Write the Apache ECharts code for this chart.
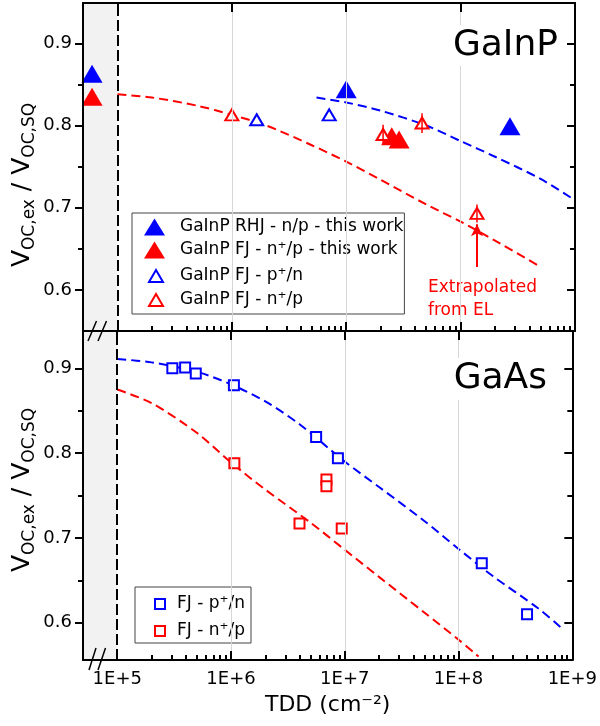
<!DOCTYPE html>
<html><head><meta charset="utf-8">
<script src="https://cdn.jsdelivr.net/npm/echarts@6/dist/echarts.min.js"></script>
<style>html,body{margin:0;padding:0;background:#fff}#c{width:600px;height:726px}</style>
</head><body><div id="c"></div><script>
const FONT = 'DejaVu Sans';

// ---------- axes / ticks ----------
const xMin = 5e4, xMax = 1e9;
const xMajorTicks = [1e5, 1e6, 1e7, 1e8, 1e9];
const xMinorTicks = [2e5,3e5,4e5,5e5,6e5,7e5,8e5,9e5,
                     2e6,3e6,4e6,5e6,6e6,7e6,8e6,9e6,
                     2e7,3e7,4e7,5e7,6e7,7e7,8e7,9e7,
                     2e8,3e8,4e8,5e8,6e8,7e8,8e8,9e8];
const yMajorTicks = [0.6, 0.7, 0.8, 0.9];
const yMinorTicks = [0.65, 0.75, 0.85];
const gridLineTDD = [1e6, 1e7, 1e8];
const breakTDD = 1e5;
const topYRange = [0.55, 0.949];
const botYRange = [0.556, 0.944];

// ---------- GaInP panel ----------
const nameRHJ = 'GaInP RHJ - n/p - this work';
const nameFJnpWork = 'GaInP FJ - n\u207A/p - this work';
const nameFJpn = 'GaInP FJ - p\u207A/n';
const nameFJnp = 'GaInP FJ - n\u207A/p';
const rhjBlueFilled = [[6.0e4, 0.863], [1.0e7, 0.844], [2.7e8, 0.799]];
const fjRedFilled = [[6.0e4, 0.835], [2.5e7, 0.787], [2.9e7, 0.783]];
const fjBlueOpen = [[1.65e6, 0.807], [7.1e6, 0.813]];
const fjRedOpen = [[1.0e6, 0.813], [2.1e7, 0.789], [4.6e7, 0.803], [1.39e8, 0.693]];
const fjRedOpenErr = [[2.1e7, 0.777, 0.801], [4.6e7, 0.791, 0.815], [1.39e8, 0.682, 0.704]];
const arrowTDD = 1.39e8, arrowFrom = 0.628, arrowTo = 0.680;
const fitTopRedX = [1e5, 2e5, 5e5, 1e6, 2e6, 5e6, 1e7, 2e7, 5e7, 1e8, 2e8, 5e8];
const fitTopRedY = [0.838, 0.834, 0.824, 0.813, 0.800, 0.776, 0.756, 0.734, 0.704, 0.683, 0.660, 0.628];
const fitTopBlueX = [5.5e6, 1e7, 2e7, 5e7, 1e8, 2e8, 5e8, 1e9];
const fitTopBlueY = [0.834, 0.828, 0.818, 0.800, 0.781, 0.762, 0.735, 0.709];

// ---------- GaAs panel ----------
const nameGaAsPN = 'FJ - p\u207A/n';
const nameGaAsNP = 'FJ - n\u207A/p';
const gaasBlue = [[3.05e5, 0.900], [3.95e5, 0.901], [4.9e5, 0.894], [1.06e6, 0.880],
                  [5.6e6, 0.819], [8.7e6, 0.794], [1.6e8, 0.670], [4.0e8, 0.610]];
const gaasRed = [[1.07e6, 0.788], [4.0e6, 0.717], [6.9e6, 0.769], [6.9e6, 0.761], [9.4e6, 0.711]];
const fitBotBlueX = [1e5, 2e5, 5e5, 1e6, 2e6, 4e6, 1e7, 2e7, 5e7, 1e8, 2e8, 5e8, 8e8];
const fitBotBlueY = [0.911, 0.907, 0.896, 0.881, 0.861, 0.834, 0.790, 0.760, 0.720, 0.687, 0.655, 0.617, 0.594];
const fitBotRedX = [1e5, 2e5, 5e5, 1e6, 2e6, 5e6, 1e7, 2e7, 5e7, 1e8, 1.5e8];
const fitBotRedY = [0.875, 0.859, 0.824, 0.789, 0.757, 0.718, 0.686, 0.654, 0.612, 0.580, 0.560];

const zip = (xs, ys) => xs.map((x, i) => [x, ys[i]]);
const BLUE = '#0000ff', RED = '#ff0000';

const tl = () => ({color: '#000', width: 2});
const frameLine = () => ({show: true, onZero: false, lineStyle: {color: '#000', width: 2}});
function makeX(gi, showLabels) {
  return [
    {type: 'log', gridIndex: gi, min: xMin, max: xMax, position: 'bottom', z: 5,
      axisLine: frameLine(), splitLine: {show: false},
      axisTick: {show: true, inside: true, length: 9, customValues: xMajorTicks, lineStyle: tl()},
      axisLabel: {show: showLabels, customValues: xMajorTicks,
        formatter: v => '1E+' + Math.round(Math.log10(v)),
        margin: 10, color: '#000', fontSize: 18, fontFamily: FONT},
      name: showLabels ? 'TDD (cm\u207B\u00B2)' : '', nameLocation: 'middle', nameGap: 34,
      nameTextStyle: {color: '#000', fontSize: 22, fontFamily: FONT}},
    {type: 'log', gridIndex: gi, min: xMin, max: xMax, position: 'top', z: 5,
      axisLine: frameLine(), splitLine: {show: false},
      axisTick: {show: true, inside: true, length: 9, customValues: xMajorTicks, lineStyle: tl()},
      axisLabel: {show: false}},
    {type: 'log', gridIndex: gi, min: xMin, max: xMax, position: 'bottom', z: 5,
      axisLine: {show: false, onZero: false}, splitLine: {show: false},
      axisTick: {show: true, inside: true, length: 5, customValues: xMinorTicks, lineStyle: tl()},
      axisLabel: {show: false}}
  ];
}
function makeY(gi, range) {
  return [
    {type: 'value', gridIndex: gi, min: range[0], max: range[1], position: 'left', z: 5,
      axisLine: frameLine(), splitLine: {show: false},
      axisTick: {show: true, inside: false, length: 8, customValues: yMajorTicks, lineStyle: tl()},
      axisLabel: {show: true, customValues: yMajorTicks, formatter: v => v.toFixed(1),
        margin: 11, color: '#000', fontSize: 18, fontFamily: FONT}},
    {type: 'value', gridIndex: gi, min: range[0], max: range[1], position: 'right', z: 5,
      axisLine: frameLine(), splitLine: {show: false},
      axisTick: {show: true, inside: true, length: 8, customValues: yMajorTicks, lineStyle: tl()},
      axisLabel: {show: false}},
    {type: 'value', gridIndex: gi, min: range[0], max: range[1], position: 'left', z: 5,
      axisLine: {show: false, onZero: false}, splitLine: {show: false},
      axisTick: {show: true, inside: false, length: 5, customValues: yMinorTicks, lineStyle: tl()},
      axisLabel: {show: false}},
    {type: 'value', gridIndex: gi, min: range[0], max: range[1], position: 'right', z: 5,
      axisLine: {show: false, onZero: false}, splitLine: {show: false},
      axisTick: {show: true, inside: true, length: 5, customValues: yMinorTicks, lineStyle: tl()},
      axisLabel: {show: false}}
  ];
}

function decorMarkers() {
  return {
    markArea: {silent: true, itemStyle: {color: '#f2f2f2'},
      data: [[{xAxis: xMin}, {xAxis: breakTDD}]]},
    markLine: {silent: true, symbol: ['none', 'none'], label: {show: false},
      data: gridLineTDD.map(v => ({xAxis: v, lineStyle: {color: '#d6d6d6', type: 'solid', width: 1}}))
        .concat([{xAxis: breakTDD, lineStyle: {color: '#000', type: [11, 4], width: 2}}])}
  };
}
function fitLine(name, data, color, xi, yi, extra) {
  return Object.assign({name, type: 'line', xAxisIndex: xi, yAxisIndex: yi, data,
    showSymbol: false, symbol: 'none', smooth: 0.3, silent: true, z: 2,
    lineStyle: {color, width: 2, type: [9, 5]}}, extra || {});
}
function scatter(name, data, symbol, size, color, open, xi, yi, extra) {
  return Object.assign({name, type: 'scatter', xAxisIndex: xi, yAxisIndex: yi, data,
    symbol, symbolSize: size, z: 3,
    itemStyle: open ? {color: '#fff', borderColor: color, borderWidth: 2, opacity: 1}
                    : {color, opacity: 1}}, extra || {});
}

const legendText = {color: '#000', fontSize: 17, fontFamily: FONT, lineHeight: 18};

const option = {
  animation: false,
  backgroundColor: '#fff',
  grid: [
    {left: 83, right: 25, top: 3, height: 328},
    {left: 83, right: 25, top: 331, height: 329}
  ],
  xAxis: makeX(0, false).concat(makeX(1, true)),
  yAxis: makeY(0, topYRange).concat(makeY(1, botYRange)),
  title: [
    {text: 'GaInP', right: 38, top: 25, padding: [3, 4, 2, 4], backgroundColor: '#fff',
     textStyle: {fontSize: 36, fontWeight: 'normal', fontFamily: FONT, color: '#000'}},
    {text: 'GaAs', right: 49, top: 358, padding: [3, 4, 3, 4], backgroundColor: '#fff',
     textStyle: {fontSize: 36, fontWeight: 'normal', fontFamily: FONT, color: '#000'}}
  ],
  legend: [
    {orient: 'vertical', left: 132, top: 213, itemWidth: 21, itemHeight: 17, itemGap: 5,
     padding: [5, 1, 55, 12], borderColor: '#444', borderWidth: 1, backgroundColor: '#fff',
     selectedMode: false, textStyle: Object.assign({padding: [0, 0, 0, 10]}, legendText),
     data: [{name: nameRHJ, icon: 'triangle', itemStyle: {color: BLUE}},
            {name: nameFJnpWork, icon: 'triangle', itemStyle: {color: RED}}]},
    {orient: 'vertical', left: 148, top: 267, itemWidth: 14, itemHeight: 12, itemGap: 6,
     padding: 0, selectedMode: false, textStyle: Object.assign({padding: [0, 0, 0, 12]}, legendText),
     data: [{name: nameFJpn, icon: 'triangle', itemStyle: {color: '#fff', borderColor: BLUE, borderWidth: 2}},
            {name: nameFJnp, icon: 'triangle', itemStyle: {color: '#fff', borderColor: RED, borderWidth: 2}}]},
    {orient: 'vertical', left: 135, top: 587, itemWidth: 10, itemHeight: 10, itemGap: 9,
     padding: [8, 6, 3, 19], borderColor: '#444', borderWidth: 1, backgroundColor: '#fff',
     selectedMode: false, textStyle: Object.assign({padding: [0, 0, 0, 7]}, legendText),
     data: [{name: nameGaAsPN, icon: 'rect', itemStyle: {color: '#fff', borderColor: BLUE, borderWidth: 2}},
            {name: nameGaAsNP, icon: 'rect', itemStyle: {color: '#fff', borderColor: RED, borderWidth: 2}}]}
  ],
  series: [
    // GaInP panel
    fitLine('fitTopRed', zip(fitTopRedX, fitTopRedY), RED, 0, 0, decorMarkers()),
    fitLine('fitTopBlue', zip(fitTopBlueX, fitTopBlueY), BLUE, 0, 0),
    scatter(nameRHJ, rhjBlueFilled, 'triangle', [21, 18], BLUE, false, 0, 0),
    scatter(nameFJnpWork, fjRedFilled, 'triangle', [21, 18], RED, false, 0, 0),
    scatter(nameFJpn, fjBlueOpen, 'triangle', [13, 11], BLUE, true, 0, 0),
    scatter(nameFJnp, fjRedOpen, 'triangle', [13, 11], RED, true, 0, 0, {
      markLine: {silent: true, symbol: ['none', 'arrow'], symbolSize: [9, 12],
        label: {show: false},
        lineStyle: {color: RED, width: 2, type: 'solid'},
        data: [[{coord: [arrowTDD, arrowFrom]}, {coord: [arrowTDD, arrowTo]}]]}
    }),
    {name: 'errRed', type: 'custom', xAxisIndex: 0, yAxisIndex: 0, z: 4, silent: true,
     data: fjRedOpenErr, encode: {x: 0, y: [1, 2]},
     renderItem: (params, api) => {
       const p1 = api.coord([api.value(0), api.value(1)]);
       const p2 = api.coord([api.value(0), api.value(2)]);
       return {type: 'line', shape: {x1: p1[0], y1: p1[1], x2: p2[0], y2: p2[1]},
               style: {stroke: RED, lineWidth: 1.5}};
     }},
    // GaAs panel
    fitLine('fitBotBlue', zip(fitBotBlueX, fitBotBlueY), BLUE, 3, 4, decorMarkers()),
    fitLine('fitBotRed', zip(fitBotRedX, fitBotRedY), RED, 3, 4),
    scatter(nameGaAsPN, gaasBlue, 'rect', 10, BLUE, true, 3, 4),
    scatter(nameGaAsNP, gaasRed, 'rect', 10, RED, true, 3, 4)
  ]
};

const yTitle = (cy) => ({
  type: 'text', x: 24, y: cy, rotation: Math.PI / 2, silent: true,
  style: {
    text: '{v|V}{s|OC,ex}{v| / V}{s|OC,SQ}',
    align: 'center', verticalAlign: 'middle', fill: '#000',
    rich: {
      v: {fontSize: 25, fontFamily: FONT, fill: '#000', lineHeight: 28, verticalAlign: 'top'},
      s: {fontSize: 17, fontFamily: FONT, fill: '#000', lineHeight: 18, verticalAlign: 'bottom', padding: [20, 0, 0, 0]}
    }
  }
});
const seg = (x1, y1, x2, y2) => ({type: 'line', silent: true, z: 100,
  shape: {x1, y1, x2, y2}, style: {stroke: '#000', lineWidth: 1.5}});

const chart = echarts.init(document.getElementById('c'));
chart.setOption(option);
chart.setOption({graphic: [
  yTitle(185), yTitle(490),
  {type: 'text', x: 428, y: 276, silent: true,
   style: {text: 'Extrapolated\nfrom EL', fill: RED, fontSize: 17, fontFamily: FONT, lineHeight: 23}},
  seg(88, 341, 96.5, 321), seg(98, 341, 106.5, 321),
  seg(89, 670, 96, 648), seg(98, 670, 105.5, 648)
]});
</script></body></html>
